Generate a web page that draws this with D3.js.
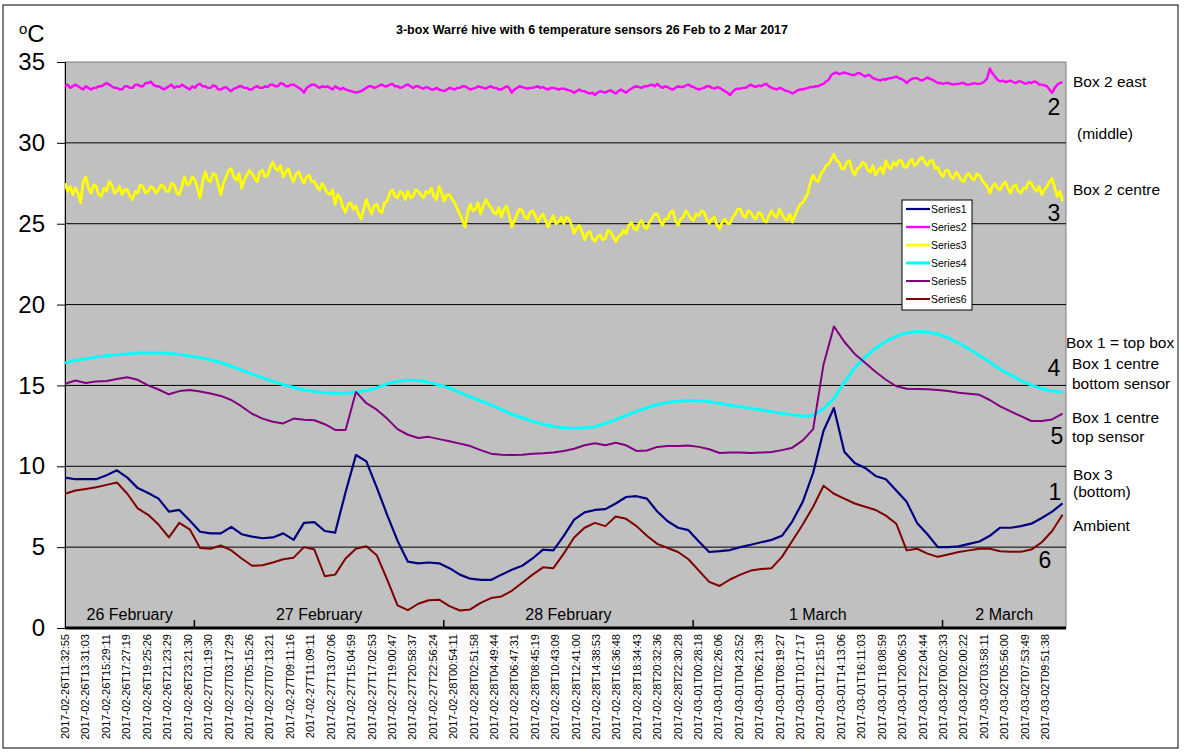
<!DOCTYPE html>
<html>
<head>
<meta charset="utf-8">
<script src="https://cdn.jsdelivr.net/npm/d3@7"></script>
<style>
  body { margin: 0; background: #fff; }
  svg text { font-family: Arial, "Liberation Sans", sans-serif; fill: #000; }
</style>
</head>
<body>
<svg id="chart" width="1187" height="754"></svg>
<script>
// ---- data ----
const chartTitle = "3-box Warré hive with 6 temperature sensors 26 Feb to 2 Mar 2017";
const startTime = "2017-02-26T11:32:55";
const endTime = "2017-03-02T11:53:00";

const tickLabels = [
  "2017-02-26T11:32:55", "2017-02-26T13:31:03", "2017-02-26T15:29:11", "2017-02-26T17:27:19",
  "2017-02-26T19:25:26", "2017-02-26T21:23:29", "2017-02-26T23:21:30", "2017-02-27T01:19:30",
  "2017-02-27T03:17:29", "2017-02-27T05:15:26", "2017-02-27T07:13:21", "2017-02-27T09:11:16",
  "2017-02-27T11:09:11", "2017-02-27T13:07:06", "2017-02-27T15:04:59", "2017-02-27T17:02:53",
  "2017-02-27T19:00:47", "2017-02-27T20:58:37", "2017-02-27T22:56:24", "2017-02-28T00:54:11",
  "2017-02-28T02:51:58", "2017-02-28T04:49:44", "2017-02-28T06:47:31", "2017-02-28T08:45:19",
  "2017-02-28T10:43:09", "2017-02-28T12:41:00", "2017-02-28T14:38:53", "2017-02-28T16:36:48",
  "2017-02-28T18:34:43", "2017-02-28T20:32:36", "2017-02-28T22:30:28", "2017-03-01T00:28:18",
  "2017-03-01T02:26:06", "2017-03-01T04:23:52", "2017-03-01T06:21:39", "2017-03-01T08:19:27",
  "2017-03-01T10:17:17", "2017-03-01T12:15:10", "2017-03-01T14:13:06", "2017-03-01T16:11:03",
  "2017-03-01T18:08:59", "2017-03-01T20:06:53", "2017-03-01T22:04:44", "2017-03-02T00:02:33",
  "2017-03-02T02:00:22", "2017-03-02T03:58:11", "2017-03-02T05:56:00", "2017-03-02T07:53:49",
  "2017-03-02T09:51:38"
];

const dayNames = ["26 February", "27 February", "28 February", "1 March", "2 March"];
const dayBreaks = ["2017-02-27T00:00:00", "2017-02-28T00:00:00", "2017-03-01T00:00:00", "2017-03-02T00:00:00"];

const yTicks = [0, 5, 10, 15, 20, 25, 30, 35];

const seriesNames = ["Series1", "Series2", "Series3", "Series4", "Series5", "Series6"];
const seriesColors = ["#000080", "#ff00ff", "#ffff00", "#00ffff", "#800080", "#800000"];

// hourly readings (hours after start)
const series1 = [
  9.3, 9.2, 9.2, 9.2, 9.45, 9.75, 9.3, 8.65, 8.35, 8.0,
  7.2, 7.3, 6.65, 5.95, 5.85, 5.85, 6.25, 5.8, 5.65, 5.55,
  5.6, 5.85, 5.45, 6.5, 6.55, 6.0, 5.9, 8.4, 10.7, 10.3,
  8.7, 7.0, 5.4, 4.1, 4.0, 4.05, 4.0, 3.7, 3.3, 3.05,
  2.98, 2.97, 3.3, 3.6, 3.85, 4.3, 4.85, 4.8, 5.7, 6.7,
  7.15, 7.3, 7.35, 7.7, 8.1, 8.15, 8.0, 7.2, 6.6, 6.2,
  6.05, 5.35, 4.7, 4.75, 4.82, 5.0, 5.15, 5.3, 5.45, 5.7,
  6.6, 7.8, 9.6, 12.2, 13.6, 10.9, 10.2, 9.9, 9.4, 9.2,
  8.5, 7.8, 6.5, 5.8, 5.0, 5.0, 5.05, 5.2, 5.35, 5.7,
  6.2, 6.2, 6.3, 6.45, 6.8, 7.2, 7.7
];
const series4 = [
  16.4, 16.55, 16.65, 16.75, 16.85, 16.9, 16.95, 17.0, 17.0, 17.0,
  16.97, 16.92, 16.82, 16.72, 16.58, 16.4, 16.2, 15.95, 15.7, 15.48,
  15.25, 15.05, 14.87, 14.72, 14.62, 14.55, 14.52, 14.52, 14.6, 14.68,
  14.85, 15.1, 15.25, 15.33, 15.3, 15.2, 15.02, 14.85, 14.55, 14.3,
  14.05, 13.8, 13.5, 13.22, 13.0, 12.78, 12.6, 12.47, 12.38, 12.35,
  12.38, 12.45, 12.65, 12.88, 13.15, 13.4, 13.62, 13.82, 13.95, 14.04,
  14.07, 14.05, 14.0, 13.88, 13.77, 13.68, 13.58, 13.48, 13.38, 13.27,
  13.18, 13.1, 13.15, 13.55, 14.2, 15.2, 16.1, 16.75, 17.3, 17.72,
  18.05, 18.25, 18.33, 18.3, 18.18, 17.95, 17.62, 17.25, 16.85, 16.45,
  16.0, 15.65, 15.3, 15.02, 14.8, 14.65, 14.58
];
const series5 = [
  15.1, 15.3, 15.15, 15.25, 15.28, 15.4, 15.5, 15.35, 15.0, 14.75,
  14.45, 14.65, 14.72, 14.62, 14.5, 14.35, 14.1, 13.7, 13.25, 12.95,
  12.75, 12.65, 12.95, 12.88, 12.85, 12.6, 12.25, 12.25, 14.6, 13.9,
  13.5, 12.95, 12.3, 11.95, 11.75, 11.82, 11.68, 11.55, 11.4, 11.25,
  11.0, 10.78, 10.72, 10.7, 10.72, 10.78, 10.8, 10.85, 10.95, 11.08,
  11.3, 11.42, 11.3, 11.45, 11.3, 10.95, 10.98, 11.2, 11.26, 11.25,
  11.28, 11.2, 11.05, 10.82, 10.85, 10.85, 10.82, 10.85, 10.88, 11.0,
  11.15, 11.6, 12.3, 16.3, 18.65, 17.7, 16.95, 16.4, 15.85, 15.35,
  14.95, 14.8, 14.78, 14.76, 14.72, 14.65, 14.55, 14.48, 14.42, 14.1,
  13.7, 13.4, 13.1, 12.8, 12.8, 12.9, 13.25
];
const series6 = [
  8.3, 8.5, 8.6, 8.7, 8.85, 9.0, 8.3, 7.4, 7.0, 6.4,
  5.6, 6.5, 6.1, 4.95, 4.9, 5.1, 4.8, 4.3, 3.85, 3.88,
  4.05, 4.25, 4.35, 5.0, 4.85, 3.2, 3.3, 4.3, 4.9, 5.05,
  4.5, 3.0, 1.4, 1.1, 1.5, 1.72, 1.75, 1.35, 1.08, 1.15,
  1.55, 1.85, 1.95, 2.3, 2.8, 3.3, 3.75, 3.7, 4.6, 5.6,
  6.2, 6.5, 6.3, 6.9, 6.75, 6.3, 5.7, 5.2, 4.95, 4.7,
  4.25, 3.55, 2.85, 2.6, 3.0, 3.3, 3.55, 3.65, 3.7, 4.4,
  5.4, 6.4, 7.5, 8.8, 8.3, 8.0, 7.7, 7.5, 7.3, 6.95,
  6.45, 4.8, 4.9, 4.6, 4.4, 4.55, 4.7, 4.8, 4.9, 4.9,
  4.75, 4.72, 4.72, 4.85, 5.3, 6.0, 7.0
];

// quarter-hourly readings for the two noisy sensors (one row = one hour)
const series2 = [
  33.5, 33.6, 33.4, 33.5,  33.6, 33.5, 33.4, 33.3,  33.5, 33.4, 33.3, 33.4,  33.4, 33.5, 33.5, 33.6,
  33.7, 33.6, 33.5, 33.4,  33.4, 33.3, 33.3, 33.5,  33.5, 33.4, 33.4, 33.6,  33.6, 33.5, 33.5, 33.7,
  33.7, 33.8, 33.6, 33.5,  33.5, 33.4, 33.3, 33.4,  33.5, 33.6, 33.4, 33.5,  33.45, 33.6, 33.5, 33.4,
  33.3, 33.5, 33.4, 33.6,  33.65, 33.5, 33.5, 33.4,  33.4, 33.55, 33.5, 33.3,  33.3, 33.4, 33.45, 33.3,
  33.2, 33.35, 33.4, 33.5,  33.5, 33.4, 33.4, 33.3,  33.3, 33.45, 33.5, 33.4,  33.4, 33.5, 33.45, 33.6,
  33.6, 33.5, 33.5, 33.7,  33.65, 33.5, 33.5, 33.6,  33.6, 33.5, 33.4, 33.3,  33.1, 33.4, 33.5, 33.6,
  33.6, 33.5, 33.4, 33.5,  33.45, 33.5, 33.4, 33.3,  33.5, 33.4, 33.3, 33.4,  33.3, 33.25, 33.2, 33.15,
  33.1, 33.15, 33.2, 33.3,  33.4, 33.5, 33.5, 33.4,  33.45, 33.55, 33.6, 33.5,  33.5, 33.6, 33.65, 33.5,
  33.5, 33.4, 33.45, 33.55,  33.6, 33.5, 33.4, 33.5,  33.5, 33.4, 33.35, 33.45,  33.4, 33.3, 33.3, 33.4,
  33.3, 33.25, 33.2, 33.3,  33.4, 33.35, 33.3, 33.4,  33.4, 33.5, 33.5, 33.4,  33.3, 33.35, 33.4, 33.5,
  33.45, 33.4, 33.35, 33.45,  33.5, 33.4, 33.4, 33.3,  33.3, 33.4, 33.5, 33.4,  33.1, 33.3, 33.4, 33.5,
  33.45, 33.4, 33.35, 33.4,  33.4, 33.45, 33.5, 33.4,  33.45, 33.35, 33.3, 33.4,  33.4, 33.35, 33.3, 33.35,
  33.35, 33.3, 33.25, 33.2,  33.1, 33.2, 33.3, 33.2,  33.2, 33.1, 33.05, 33.1,  32.95, 33.1, 33.2, 33.15,
  33.1, 33.2, 33.25, 33.15,  33.05, 33.2, 33.3, 33.2,  33.1, 33.25, 33.35, 33.45,  33.5, 33.45, 33.4, 33.5,
  33.5, 33.55, 33.6, 33.5,  33.65, 33.5, 33.4, 33.5,  33.45, 33.35, 33.3, 33.4,  33.5, 33.45, 33.45, 33.55,
  33.6, 33.5, 33.45, 33.35,  33.3, 33.35, 33.4, 33.5,  33.5, 33.4, 33.35, 33.45,  33.4, 33.3, 33.2, 33.1,
  32.95, 33.15, 33.3, 33.35,  33.35, 33.4, 33.4, 33.5,  33.6, 33.5, 33.45, 33.55,  33.5, 33.6, 33.65, 33.5,
  33.4, 33.35, 33.3, 33.4,  33.35, 33.25, 33.2, 33.15,  33.05, 33.15, 33.25, 33.3,  33.3, 33.35, 33.4, 33.45,
  33.45, 33.5, 33.5, 33.6,  33.65, 33.8, 33.9, 34.2,  34.3, 34.35, 34.25, 34.3,  34.35, 34.3, 34.25, 34.2,
  34.2, 34.3, 34.3, 34.2,  34.1, 34.2, 34.15, 34.0,  33.95, 33.9, 33.85, 33.95,  33.9, 34.0, 34.0, 34.05,
  34.1, 34.0, 33.95, 33.85,  33.7, 33.85, 33.95, 34.0,  34.0, 33.9, 33.85, 33.95,  34.05, 33.95, 33.9, 33.8,
  33.7, 33.7, 33.65, 33.7,  33.7, 33.65, 33.6, 33.65,  33.65, 33.7, 33.7, 33.6,  33.6, 33.65, 33.7, 33.65,
  33.65, 33.7, 33.8, 34.0,  34.6, 34.3, 34.1, 33.9,  33.8, 33.85, 33.75, 33.8,  33.85, 33.75, 33.7, 33.8,
  33.8, 33.7, 33.65, 33.75,  33.7, 33.8, 33.75, 33.6,  33.6, 33.55, 33.5, 33.3,  33.1, 33.4, 33.6, 33.7,
  33.75
];
const series3 = [
  27.5, 27.0, 27.3, 26.8,  27.2, 26.9, 26.3, 27.6,  27.9, 27.2, 26.9, 27.4,  27.3, 26.8, 26.7, 27.2,
  27.0, 27.6, 27.4, 26.9,  27.0, 27.3, 26.8, 27.1,  27.1, 26.7, 26.5, 27.0,  26.9, 27.4, 27.3, 26.9,
  27.0, 27.3, 27.2, 26.9,  27.1, 27.4, 27.3, 27.0,  27.0, 27.5, 27.4, 26.9,  26.8, 27.3, 27.9, 27.4,
  27.5, 27.9, 27.7, 27.2,  26.6, 27.6, 28.2, 27.7,  27.6, 28.1, 28.0, 27.4,  26.8, 27.5, 27.9, 28.3,
  28.4, 27.9, 27.7, 28.1,  27.2, 27.7, 28.0, 28.3,  28.1, 27.8, 27.6, 28.2,  28.3, 27.9, 28.0, 28.5,
  28.8, 28.4, 28.3, 28.6,  27.9, 28.2, 28.4, 27.9,  27.6, 28.1, 28.2, 27.8,  27.5, 27.9, 28.0, 27.6,
  27.6, 27.3, 27.1, 27.5,  27.2, 26.9, 26.8, 27.1,  26.2, 26.8, 26.6, 26.0,  25.7, 26.2, 26.3, 25.9,
  26.1, 25.6, 25.3, 25.9,  26.5, 26.0, 25.6, 26.1,  26.2, 25.8, 25.7, 26.3,  26.4, 26.9, 27.1, 26.7,
  26.6, 27.0, 26.9, 26.5,  27.0, 26.6, 26.7, 27.1,  27.0, 26.8, 26.6, 27.0,  26.9, 27.2, 26.7, 26.5,
  27.3, 26.9, 26.4, 26.8,  26.8, 26.5, 26.3, 25.9,  25.6, 25.2, 24.8, 25.7,  26.2, 25.8, 25.9, 26.3,
  25.6, 26.1, 26.5, 26.2,  26.0, 25.7, 25.6, 26.0,  25.4, 25.9, 26.1, 25.5,  24.8, 25.2, 25.6, 25.9,
  25.8, 25.4, 25.3, 25.7,  25.8, 25.5, 25.1, 25.4,  25.6, 25.2, 24.8, 25.2,  25.5, 25.0, 25.1, 25.4,
  25.0, 25.4, 25.3, 24.9,  24.4, 24.7, 24.9, 24.5,  24.0, 24.4, 24.5, 24.1,  23.9, 24.2, 24.3, 24.0,
  24.1, 24.6, 24.5, 24.2,  23.9, 24.2, 24.3, 24.6,  24.4, 24.9, 25.1, 24.7,  24.6, 25.0, 25.2, 24.8,
  24.7, 25.1, 25.3, 25.6,  25.6, 25.2, 24.9, 25.3,  25.3, 25.7, 25.8, 25.2,  24.9, 25.3, 25.4, 25.8,
  25.6, 25.3, 25.2, 25.6,  25.5, 25.8, 25.7, 25.3,  25.0, 25.3, 25.4, 24.9,  24.7, 25.1, 25.3, 25.0,
  25.0, 25.4, 25.6, 25.9,  25.9, 25.5, 25.4, 25.8,  25.7, 25.4, 25.3, 25.7,  25.6, 25.2, 25.1, 25.5,
  25.8, 25.5, 25.4, 25.9,  25.6, 25.3, 25.2, 25.6,  25.1, 25.5, 25.9, 26.2,  26.3, 26.6, 26.9, 27.6,
  28.0, 27.7, 27.6, 28.1,  28.3, 28.6, 28.7, 29.0,  29.3, 28.9, 28.8, 28.4,  28.4, 28.8, 28.9, 28.3,
  28.0, 28.4, 28.5, 28.8,  28.7, 28.3, 28.2, 28.6,  28.0, 28.3, 28.5, 28.1,  28.9, 28.5, 28.4, 28.8,
  28.6, 28.9, 28.9, 28.5,  28.5, 28.8, 29.0, 28.6,  28.7, 29.0, 29.1, 28.8,  28.6, 28.9, 28.9, 28.4,
  28.5, 28.1, 27.9, 28.3,  28.3, 27.9, 27.8, 28.2,  28.0, 27.7, 27.6, 28.0,  28.1, 27.8, 27.7, 28.1,
  28.0, 27.7, 27.5, 27.3,  26.9, 27.3, 27.5, 27.2,  27.1, 27.4, 27.6, 27.2,  26.9, 27.3, 27.4, 27.0,
  26.9, 27.2, 27.2, 27.6,  27.5, 27.2, 27.0, 27.3,  26.8, 27.1, 27.3, 27.6,  27.8, 27.2, 26.7, 27.0,
  26.4
];

// sampling step of each series in hours
const seriesValues = [series1, series2, series3, series4, series5, series6];
const seriesStep = [1, 0.25, 0.25, 1, 1, 1];

// notes written to the right of the plot, anchored at a temperature
const sideNotes = [
  { text: "Box 2 east", at: 33.77, dx: 7 },
  { text: "(middle)", at: 30.6, dx: 11 },
  { text: "Box 2 centre", at: 27.09, dx: 7 },
  { text: "Box 1 = top box", at: 17.63, dx: 0 },
  { text: "Box 1 centre", at: 16.33, dx: 6 },
  { text: "bottom sensor", at: 15.15, dx: 6 },
  { text: "Box 1 centre", at: 12.99, dx: 6 },
  { text: "top sensor", at: 11.87, dx: 6 },
  { text: "Box 3", at: 9.52, dx: 7 },
  { text: "(bottom)", at: 8.41, dx: 7 },
  { text: "Ambient", at: 6.31, dx: 7 }
];
const seriesNumbers = [
  { text: "2", at: 32.2, dx: -12 },
  { text: "3", at: 25.66, dx: -12 },
  { text: "4", at: 16.08, dx: -12 },
  { text: "5", at: 11.87, dx: -9 },
  { text: "1", at: 8.41, dx: -11 },
  { text: "6", at: 4.2, dx: -21 }
];

// ---- layout ----
const parseTime = d3.timeParse("%Y-%m-%dT%H:%M:%S");
const plot = { left: 65, right: 1066, top: 62, bottom: 628 };

const svg = d3.select("#chart");

// outer frame
svg.append("rect")
  .attr("x", 3).attr("y", 5)
  .attr("width", 1175).attr("height", 743)
  .attr("fill", "#fff")
  .attr("stroke", "#000")
  .attr("stroke-width", 1);

const x = d3.scaleTime()
  .domain([parseTime(startTime), parseTime(endTime)])
  .range([plot.left, plot.right]);

const y = d3.scaleLinear()
  .domain([0, 35])
  .range([plot.bottom, plot.top]);

// plot area
svg.append("rect")
  .attr("x", plot.left).attr("y", plot.top)
  .attr("width", plot.right - plot.left)
  .attr("height", plot.bottom - plot.top)
  .attr("fill", "#c0c0c0")
  .attr("stroke", "#808080")
  .attr("stroke-width", 1);

// gridlines
svg.append("g")
  .selectAll("line")
  .data(yTicks.filter(d => d > 0 && d < 35))
  .join("line")
  .attr("x1", plot.left).attr("x2", plot.right)
  .attr("y1", d => y(d)).attr("y2", d => y(d))
  .attr("stroke", "#000")
  .attr("stroke-width", 1);

// y axis
const yAxis = svg.append("g")
  .attr("transform", `translate(${plot.left},0)`)
  .call(d3.axisLeft(y).tickValues(yTicks).tickSize(8).tickPadding(12));
yAxis.select(".domain").attr("stroke", "#000");
yAxis.selectAll(".tick text")
  .attr("font-size", 24)
  .attr("font-family", "Arial, 'Liberation Sans', sans-serif");

// series lines
const clipId = "plotclip";
svg.append("clipPath").attr("id", clipId)
  .append("rect")
  .attr("x", plot.left).attr("y", plot.top)
  .attr("width", plot.right - plot.left)
  .attr("height", plot.bottom - plot.top);

const start = parseTime(startTime);
const lineGen = d3.line()
  .x(d => x(d.t))
  .y(d => y(d.v));

const lineWidths = [2.2, 2.4, 2.8, 3, 2, 2];

seriesValues.forEach((vals, k) => {
  const pts = vals.map((v, i) => ({
    t: new Date(start.getTime() + i * seriesStep[k] * 3600e3),
    v: v
  }));
  svg.append("path")
    .datum(pts)
    .attr("clip-path", `url(#${clipId})`)
    .attr("fill", "none")
    .attr("stroke", seriesColors[k])
    .attr("stroke-width", lineWidths[k])
    .attr("stroke-linejoin", "round")
    .attr("d", lineGen);
});

// x axis: thick base line, day ticks and day names
svg.append("line")
  .attr("x1", plot.left).attr("x2", plot.right)
  .attr("y1", plot.bottom).attr("y2", plot.bottom)
  .attr("stroke", "#000")
  .attr("stroke-width", 3);

const breaks = dayBreaks.map(parseTime);
svg.append("g")
  .selectAll("line")
  .data(breaks)
  .join("line")
  .attr("x1", d => x(d)).attr("x2", d => x(d))
  .attr("y1", plot.bottom - 8).attr("y2", plot.bottom)
  .attr("stroke", "#000")
  .attr("stroke-width", 1.5);

const edges = [plot.left].concat(breaks.map(d => x(d)), [plot.right]);
svg.append("g")
  .selectAll("text")
  .data(dayNames)
  .join("text")
  .attr("x", (d, i) => (edges[i] + edges[i + 1]) / 2)
  .attr("y", plot.bottom - 8)
  .attr("text-anchor", "middle")
  .attr("font-size", 16)
  .text(d => d);

// rotated time stamp labels
svg.append("g")
  .selectAll("text")
  .data(tickLabels)
  .join("text")
  .attr("transform", d => `translate(${x(parseTime(d))},${plot.bottom + 6}) rotate(-90)`)
  .attr("text-anchor", "end")
  .attr("dominant-baseline", "central")
  .attr("font-size", 11)
  .text(d => d);

// title and unit
svg.append("text")
  .attr("x", 592).attr("y", 34)
  .attr("text-anchor", "middle")
  .attr("font-size", 12.5)
  .attr("font-weight", "bold")
  .text(chartTitle);

const unit = svg.append("text").attr("x", 19).attr("y", 42);
unit.append("tspan").attr("font-size", 15).attr("dy", -8).text("o");
unit.append("tspan").attr("font-size", 24).attr("dy", 8).text("C");

// legend
const legend = svg.append("g").attr("transform", "translate(902,200)");
legend.append("rect")
  .attr("width", 70).attr("height", 110)
  .attr("fill", "#fff")
  .attr("stroke", "#000");
const rows = legend.selectAll("g")
  .data(seriesNames)
  .join("g")
  .attr("transform", (d, i) => `translate(0,${9 + i * 18})`);
rows.append("line")
  .attr("x1", 4).attr("x2", 28)
  .attr("stroke", (d, i) => seriesColors[i])
  .attr("stroke-width", (d, i) => lineWidths[i]);
rows.append("text")
  .attr("x", 29)
  .attr("dominant-baseline", "central")
  .attr("font-size", 10.5)
  .text(d => d);

// notes on the right
svg.append("g")
  .selectAll("text")
  .data(sideNotes)
  .join("text")
  .attr("x", d => plot.right + d.dx)
  .attr("y", d => y(d.at))
  .attr("dominant-baseline", "central")
  .attr("font-size", 15.5)
  .text(d => d.text);

svg.append("g")
  .selectAll("text")
  .data(seriesNumbers)
  .join("text")
  .attr("x", d => plot.right + d.dx)
  .attr("y", d => y(d.at))
  .attr("dominant-baseline", "central")
  .attr("text-anchor", "middle")
  .attr("font-size", 23)
  .text(d => d.text);
</script>
</body>
</html>
